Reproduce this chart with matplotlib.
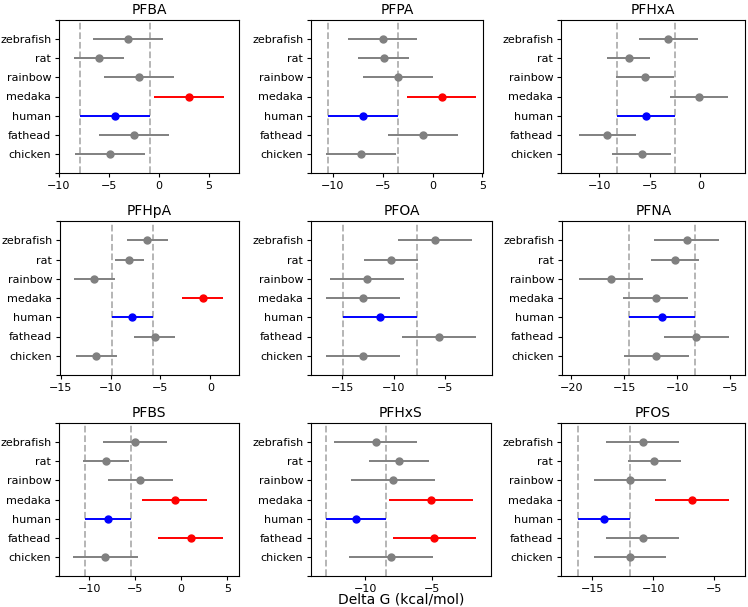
import numpy as np
import matplotlib
matplotlib.use('Agg')
import matplotlib.pyplot as plt

# species order bottom -> top
species = ['chicken', 'fathead', 'human', 'medaka', 'rainbow', 'rat', 'zebrafish']
compounds = ['PFBA', 'PFPA', 'PFHxA', 'PFHpA', 'PFOA', 'PFNA', 'PFBS', 'PFHxS', 'PFOS']

# Delta G means (kcal/mol), one list per compound, in species order
pfba_mean  = [-4.93, -2.47, -4.43, 2.97, -2.03, -6.00, -3.13]
pfpa_mean  = [-7.15, -0.94, -6.95, 0.91, -3.49, -4.90, -5.00]
pfhxa_mean = [-5.81, -9.20, -5.42, -0.13, -5.51, -7.10, -3.17]
pfhpa_mean = [-11.43, -5.57, -7.82, -0.77, -11.63, -8.13, -6.33]
pfoa_mean  = [-13.00, -5.65, -11.38, -13.00, -12.58, -10.29, -5.97]
pfna_mean  = [-11.97, -8.20, -11.47, -12.06, -16.27, -10.24, -9.11]
pfbs_mean  = [-8.26, 1.05, -7.92, -0.72, -4.42, -8.15, -5.00]
pfhxs_mean = [-8.06, -4.83, -10.68, -5.07, -7.91, -7.49, -9.20]
pfos_mean  = [-11.91, -10.87, -14.02, -6.83, -11.91, -9.92, -10.87]

# half-width of the interval
pfba_err  = [3.52, 3.50, 3.50, 3.50, 3.50, 2.50, 3.50]
pfpa_err  = [3.50, 3.50, 3.50, 3.50, 3.50, 2.55, 3.45]
pfhxa_err = [2.90, 2.85, 2.86, 2.90, 2.85, 2.10, 2.90]
pfhpa_err = [2.07, 2.07, 2.05, 2.07, 2.07, 1.47, 2.07]
pfoa_err  = [3.58, 3.58, 3.58, 3.60, 3.58, 2.63, 3.58]
pfna_err  = [3.09, 3.10, 3.09, 3.05, 3.03, 2.26, 3.06]
pfbs_err  = [3.53, 3.52, 2.52, 3.55, 3.50, 2.48, 3.50]
pfhxs_err = [3.12, 3.12, 2.23, 3.12, 3.12, 2.25, 3.10]
pfos_err  = [2.98, 3.00, 2.13, 3.00, 2.98, 2.15, 3.00]

means = [pfba_mean, pfpa_mean, pfhxa_mean, pfhpa_mean, pfoa_mean,
         pfna_mean, pfbs_mean, pfhxs_mean, pfos_mean]
errs = [pfba_err, pfpa_err, pfhxa_err, pfhpa_err, pfoa_err,
        pfna_err, pfbs_err, pfhxs_err, pfos_err]

# x limits per panel
xlims = [(-10, 8), (-12.2, 5.07), (-13.8, 4.42),
         (-15.07, 2.87), (-18.03, -0.48), (-20.88, -3.62),
         (-13.26, 6.27), (-14.03, -0.62), (-17.57, -2.49)]

W, H = 748, 607
# axes boxes in pixels: left, right, top, bottom
boxes = [(59, 239, 20, 173), (311, 483, 20, 173), (561, 745, 20, 173),
         (60, 239, 221, 375), (311, 492, 221, 375), (562, 745, 221, 375),
         (59, 239, 423, 576), (311, 491, 423, 576), (561, 745, 423, 576)]

plt.rcParams['xtick.labelsize'] = 8
plt.rcParams['ytick.labelsize'] = 8
plt.rcParams['xtick.major.size'] = 3
plt.rcParams['ytick.major.size'] = 3
plt.rcParams['xtick.major.pad'] = 2.5
plt.rcParams['ytick.major.pad'] = 2.5
plt.rcParams['axes.linewidth'] = 0.8

fig = plt.figure(figsize=(W / 100, H / 100), dpi=100)

for i, name in enumerate(compounds):
    l, r, t, b = boxes[i]
    ax = fig.add_axes([l / W, 1 - b / H, (r - l) / W, (b - t) / H])
    m = np.array(means[i])
    e = np.array(errs[i])
    hi_idx = species.index('human')
    h_lo = m[hi_idx] - e[hi_idx]
    h_hi = m[hi_idx] + e[hi_idx]

    ax.axvline(h_lo, color='#b0b0b0', ls='--', lw=1.3, zorder=1)
    ax.axvline(h_hi, color='#b0b0b0', ls='--', lw=1.3, zorder=1)

    for j, sp in enumerate(species):
        if sp == 'human':
            c = 'blue'
        elif m[j] - e[j] > h_hi:
            c = 'red'
        else:
            c = 'gray'
        ax.errorbar(m[j], j, xerr=e[j], fmt='o', color=c, ms=5, lw=1.4, zorder=3)

    ax.set_yticks(range(-1, 8))
    ax.set_yticklabels([''] + species + [''])
    ax.set_ylim(-1, 7)
    ax.set_xlim(*xlims[i])
    ax.set_title(name, fontsize=10, pad=4)
    if name == 'PFHxS':
        ax.set_xlabel('Delta G (kcal/mol)', fontsize=10, labelpad=-1)

plt.savefig('out.png', dpi=100)
